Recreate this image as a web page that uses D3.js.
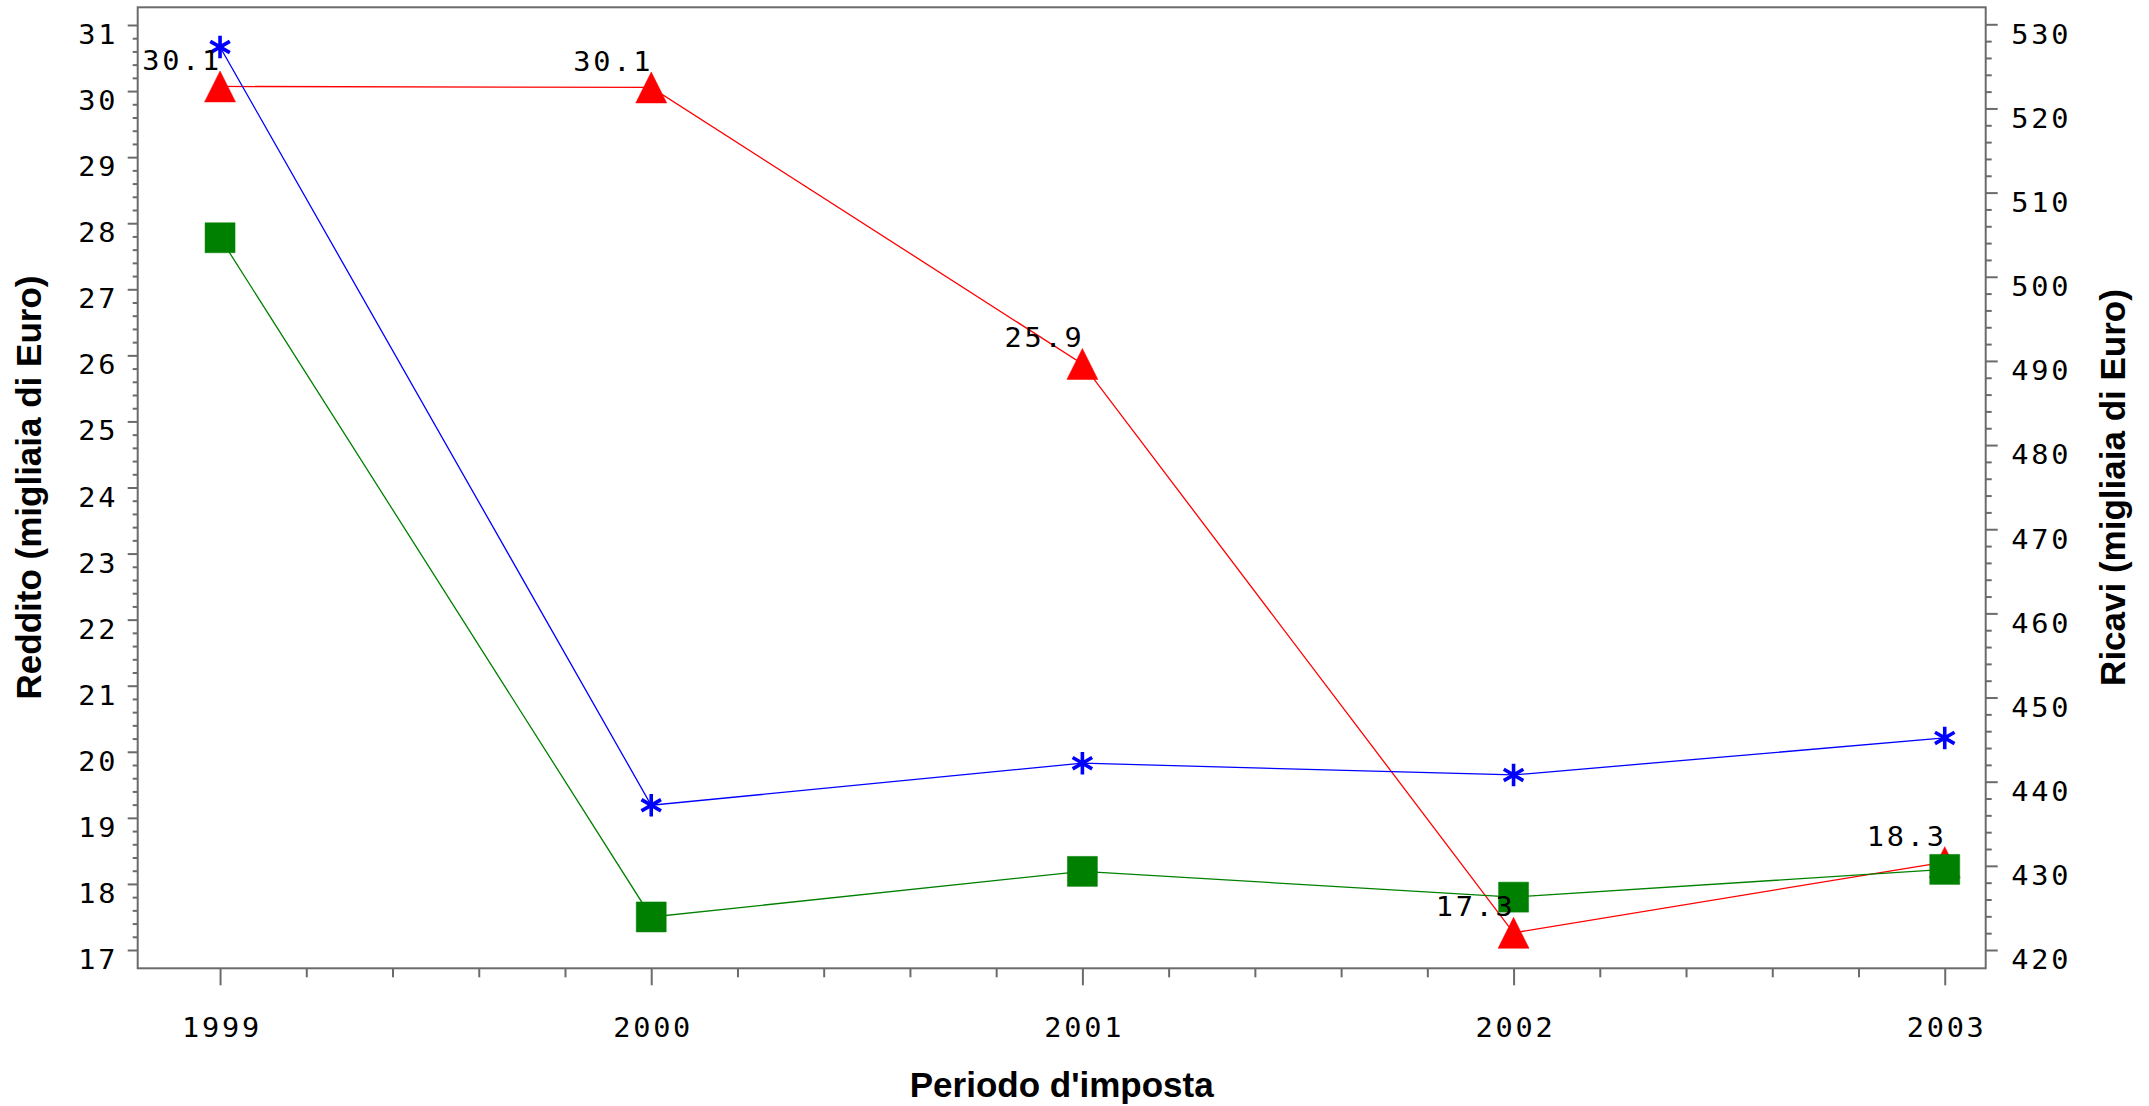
<!DOCTYPE html>
<html>
<head>
<meta charset="utf-8">
<script src="https://cdn.jsdelivr.net/npm/d3@7"></script>
<style>
  html, body { margin: 0; padding: 0; background: #fff; }
  svg { display: block; }
  .tick text, .dlabel { font-family: "DejaVu Sans Mono", monospace; font-size: 26px; letter-spacing: 2.5px; fill: #000; }
  .title { font-family: "Liberation Sans", Arial, sans-serif; font-weight: bold; font-size: 35px; fill: #000; }
</style>
</head>
<body>
<script>
// ---- data ----
const years = [1999, 2000, 2001, 2002, 2003];
const reddito = [30.07, 30.055, 25.87, 17.26, 18.33];      // red triangles, left axis, labelled
const redditoB = [27.78, 17.5, 18.19, 17.8, 18.22];         // green squares, left axis
const ricavi = [527.3, 437.2, 442.2, 440.8, 445.2];         // blue asterisks, right axis
const leftTicks = [17, 18, 19, 20, 21, 22, 23, 24, 25, 26, 27, 28, 29, 30, 31];
const rightTicks = [420, 430, 440, 450, 460, 470, 480, 490, 500, 510, 520, 530];
const xTicks = [1999, 2000, 2001, 2002, 2003];
const leftTitle = "Reddito (migliaia di Euro)";
const rightTitle = "Ricavi (migliaia di Euro)";
const xTitle = "Periodo d'imposta";

// ---- layout ----
const W = 2149, H = 1106;
const L = 137.7, R = 1985.7, T = 7.3, B = 968.3;
const frameColor = "#6b6b6b";
const SX = 1.1; // horizontal stretch of the monospaced labels

const svg = d3.select("body").append("svg").attr("width", W).attr("height", H);

const x = d3.scaleLinear().domain([1998.809, 2003.095]).range([L, R]);
const yL = d3.scaleLinear().domain([17, 31]).range([950, 25]);
const yR = d3.scaleLinear().domain([420, 530]).range([950, 24.3]);

function styleAxis(g) {
  g.select(".domain").remove();
  g.selectAll(".tick line").attr("stroke", frameColor).attr("stroke-width", 2);
}

// minor ticks
const minorLeft = d3.range(17, 31.0001, 0.2).filter(v => Math.abs(v - Math.round(v)) > 1e-6);
const minorRight = d3.range(420, 530.0001, 2).filter(v => v % 10 !== 0);
const minorX = d3.range(1999, 2003.0001, 0.2).filter(v => Math.abs(v - Math.round(v)) > 1e-6);

svg.append("g").attr("transform", `translate(${L},0)`)
  .call(d3.axisLeft(yL).tickValues(minorLeft).tickSize(5).tickFormat(""))
  .call(styleAxis);
svg.append("g").attr("transform", `translate(${R},0)`)
  .call(d3.axisRight(yR).tickValues(minorRight).tickSize(6).tickFormat(""))
  .call(styleAxis);
svg.append("g").attr("transform", `translate(0,${B})`)
  .call(d3.axisBottom(x).tickValues(minorX).tickSize(9).tickFormat(""))
  .call(styleAxis);

// major ticks
svg.append("g").attr("transform", `translate(${L},0)`)
  .call(d3.axisLeft(yL).tickValues(leftTicks).tickSize(10).tickFormat(d3.format("d")))
  .call(styleAxis)
  .call(g => g.selectAll(".tick text").attr("dy", null)
    .attr("x", -19.5 / SX).attr("y", 18.5).attr("transform", `scale(${SX},1)`).attr("fill", "#000"));

svg.append("g").attr("transform", `translate(${R},0)`)
  .call(d3.axisRight(yR).tickValues(rightTicks).tickSize(12).tickFormat(d3.format("d")))
  .call(styleAxis)
  .call(g => g.selectAll(".tick text").attr("dy", null)
    .attr("x", 25.6 / SX).attr("y", 18.8).attr("transform", `scale(${SX},1)`).attr("fill", "#000"));

svg.append("g").attr("transform", `translate(0,${B})`)
  .call(d3.axisBottom(x).tickValues(xTicks).tickSize(17).tickFormat(d3.format("d")))
  .call(styleAxis)
  .call(g => g.selectAll(".tick text").attr("dy", null)
    .attr("x", 1.4 / SX).attr("y", 69.2).attr("transform", `scale(${SX},1)`).attr("fill", "#000"));

// frame
svg.append("rect").attr("x", L).attr("y", T).attr("width", R - L).attr("height", B - T)
  .attr("fill", "none").attr("stroke", frameColor).attr("stroke-width", 2);

// titles
svg.append("text").attr("class", "title")
  .attr("transform", `translate(40.7,${(25 + 950) / 2}) rotate(-90)`)
  .attr("text-anchor", "middle").text(leftTitle);
svg.append("text").attr("class", "title")
  .attr("transform", `translate(2125,${(25 + 950) / 2}) rotate(-90)`)
  .attr("text-anchor", "middle").text(rightTitle);
svg.append("text").attr("class", "title")
  .attr("x", (L + R) / 2).attr("y", 1097.3)
  .attr("text-anchor", "middle").text(xTitle);

// symbol types
const triType = {
  draw(ctx, size) {
    const s = Math.sqrt(size) / 2;
    ctx.moveTo(0, -s); ctx.lineTo(s, s); ctx.lineTo(-s, s); ctx.closePath();
  }
};

const series = [
  { vals: reddito, y: yL, color: "#ff0000", sym: d3.symbol(triType, 31 * 31), fill: true },
  { vals: redditoB, y: yL, color: "#008000", sym: d3.symbol(d3.symbolSquare, 900), fill: true },
  { vals: ricavi, y: yR, color: "#0000ff", sym: d3.symbol(d3.symbolAsterisk, 360), fill: false }
];

series.forEach(s => {
  const pts = years.map((yr, i) => [x(yr), s.y(s.vals[i])]);
  svg.append("path").datum(pts)
    .attr("d", d3.line())
    .attr("fill", "none").attr("stroke", s.color).attr("stroke-width", 1.3);
  svg.append("g").selectAll("path").data(pts).join("path")
    .attr("transform", d => `translate(${d[0]},${d[1]})`)
    .attr("d", s.sym())
    .attr("fill", s.fill ? s.color : "none")
    .attr("stroke", s.color)
    .attr("stroke-width", s.fill ? 0.5 : 3.6);
});

// data labels for reddito
const fmt = d3.format(".1f");
svg.append("g").selectAll("text").data(years).join("text")
  .attr("class", "dlabel")
  .attr("transform", `scale(${SX},1)`)
  .attr("x", (d) => (x(d) + 2) / SX)
  .attr("y", (d, i) => yL(reddito[i]) - 16.5)
  .attr("text-anchor", "end")
  .text((d, i) => fmt(reddito[i]));
</script>
</body>
</html>
